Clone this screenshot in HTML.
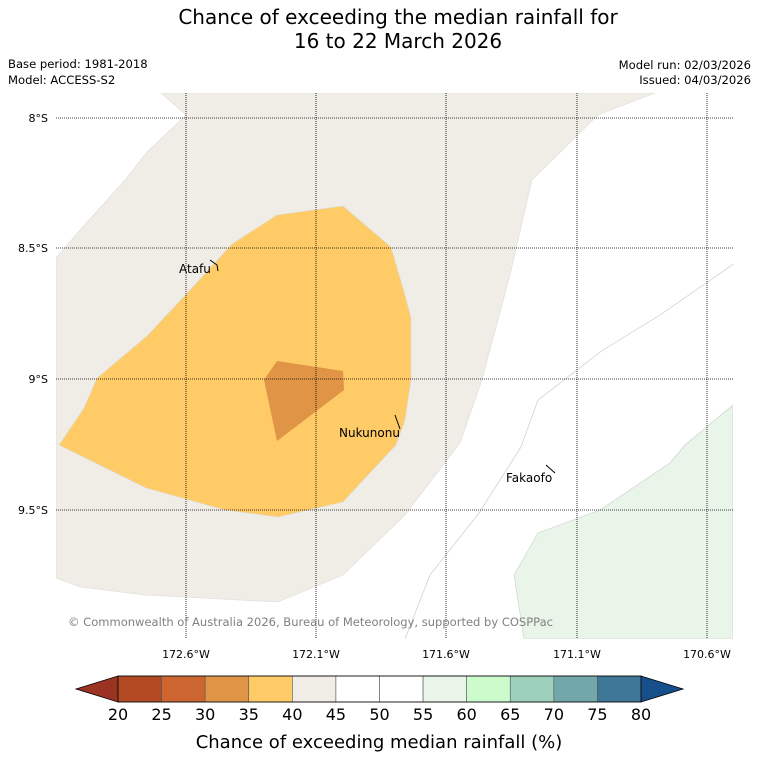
<!DOCTYPE html>
<html><head><meta charset="utf-8"><style>
body{margin:0;background:#fff;font-family:"DejaVu Sans","Liberation Sans",sans-serif;}
svg{display:block}
</style></head><body>
<svg width="758" height="781" viewBox="0 0 758 781" xmlns="http://www.w3.org/2000/svg" font-family="DejaVu Sans, Liberation Sans, sans-serif">
<text x="398" y="24" font-size="20" text-anchor="middle">Chance of exceeding the median rainfall for</text>
<text x="398" y="48" font-size="20" text-anchor="middle">16 to 22 March 2026</text>
<text x="8" y="68" font-size="11.6">Base period: 1981-2018</text>
<text x="8" y="84" font-size="11.6">Model: ACCESS-S2</text>
<text x="751" y="69" font-size="11.6" text-anchor="end">Model run: 02/03/2026</text>
<text x="751" y="84" font-size="11.6" text-anchor="end">Issued: 04/03/2026</text>
<defs><clipPath id="mc"><rect x="56" y="93" width="677" height="546"/></clipPath></defs>
<g clip-path="url(#mc)">
<polygon fill="#f0ece6" stroke="#ddd" stroke-width="0.6" points="161,93 186,115 147,152 125,180 80,230 56,258 56,578 80,587 145,595 278,602 343,575 405,515 460,443 482,380 510,275 532,180 598,115 655,93"/>
<polygon fill="#fecb66" stroke="#ddd" stroke-width="0.6" points="59,445 84,408 97,378 147,336 190,290 232,244 277,215 343,206 391,247 405,295 411,318 411,380 405,420 396,445 343,502 278,517 225,510 146,488"/>
<polygon fill="#e09445" points="277,361 343,371 344,390 277,441 264,380"/>
<polygon fill="#e9f5e9" stroke="#ccc" stroke-width="0.6" points="733,405 685,445 670,463 600,510 538,533 514,575 524,639 733,639"/>
<polyline fill="none" stroke="#ccc" stroke-width="0.7" points="405,639 430,575 479,513 521,447 538,400 603,350 660,315 738,261"/>
<g stroke="#000" stroke-width="0.8" stroke-dasharray="1,1">
<line x1="186" y1="93" x2="186" y2="639"/><line x1="316" y1="93" x2="316" y2="639"/><line x1="446" y1="93" x2="446" y2="639"/><line x1="577" y1="93" x2="577" y2="639"/><line x1="707" y1="93" x2="707" y2="639"/>
<line x1="56" y1="118" x2="733" y2="118"/><line x1="56" y1="248" x2="733" y2="248"/><line x1="56" y1="379" x2="733" y2="379"/><line x1="56" y1="510" x2="733" y2="510"/>
</g>
<g font-size="12">
<text x="179" y="273">Atafu</text>
<polyline points="210,260 217,265 218,271" fill="none" stroke="#000"/>
<text x="339" y="437">Nukunonu</text>
<line x1="395" y1="415" x2="400" y2="429" stroke="#000"/>
<text x="506" y="482">Fakaofo</text>
<line x1="546" y1="465" x2="555" y2="473" stroke="#000"/>
</g>
<text x="68" y="626" font-size="11.6" textLength="485" lengthAdjust="spacingAndGlyphs" fill="#808080">© Commonwealth of Australia 2026, Bureau of Meteorology, supported by COSPPac</text>
</g>
<g font-size="11">
<text x="48" y="122" text-anchor="end">8°S</text><text x="48" y="252" text-anchor="end">8.5°S</text><text x="48" y="383" text-anchor="end">9°S</text><text x="48" y="514" text-anchor="end">9.5°S</text>
</g>
<g font-size="11" text-anchor="middle">
<text x="186" y="658">172.6°W</text><text x="316" y="658">172.1°W</text><text x="446" y="658">171.6°W</text><text x="577" y="658">171.1°W</text><text x="707" y="658">170.6°W</text>
</g>
<g id="cb"></g>
<text x="379" y="748" font-size="18" text-anchor="middle">Chance of exceeding median rainfall (%)</text>
</svg>
<script>
const levels=[20,25,30,35,40,45,50,55,60,65,70,75,80];
const colors=["#b34a24","#cc6530","#e09445","#fecb66","#f0ece6","#ffffff","#ffffff","#e9f5e9","#ccfccc","#9ed1bb","#72a8a9","#3f7797"];
const ns="http://www.w3.org/2000/svg";
const cb=document.getElementById('cb');
const x0=118,x1=641,y0=676,y1=702;
const sx=v=>x0+(v-20)/(80-20)*(x1-x0);
function mk(t,a){const e=document.createElementNS(ns,t);for(const k in a)e.setAttribute(k,a[k]);cb.appendChild(e);return e;}
const la=mk('polygon',{points:`${x0},${y0} ${x0},${y1} 76,${(y0+y1)/2}`,fill:'#9b3322',stroke:'#000','stroke-width':0.8});


const ra=mk('polygon',{points:`${x1},${y0} ${x1},${y1} 683,${(y0+y1)/2}`,fill:'#174f8a',stroke:'#000','stroke-width':0.8});


for(let i=0;i<colors.length;i++){
 const r=mk('rect',{x:sx(levels[i]),y:y0,width:sx(levels[i+1])-sx(levels[i]),height:y1-y0,fill:colors[i],stroke:'#555','stroke-width':0.6});
 
 
}
mk('rect',{x:x0,y:y0,width:x1-x0,height:y1-y0,fill:'none',stroke:'#000','stroke-width':0.8});
levels.forEach(v=>{
 const t=mk('text',{x:sx(v),y:720,'font-size':16,'text-anchor':'middle'});
 t.textContent=v;
 
 
});
</script>
</body></html>
